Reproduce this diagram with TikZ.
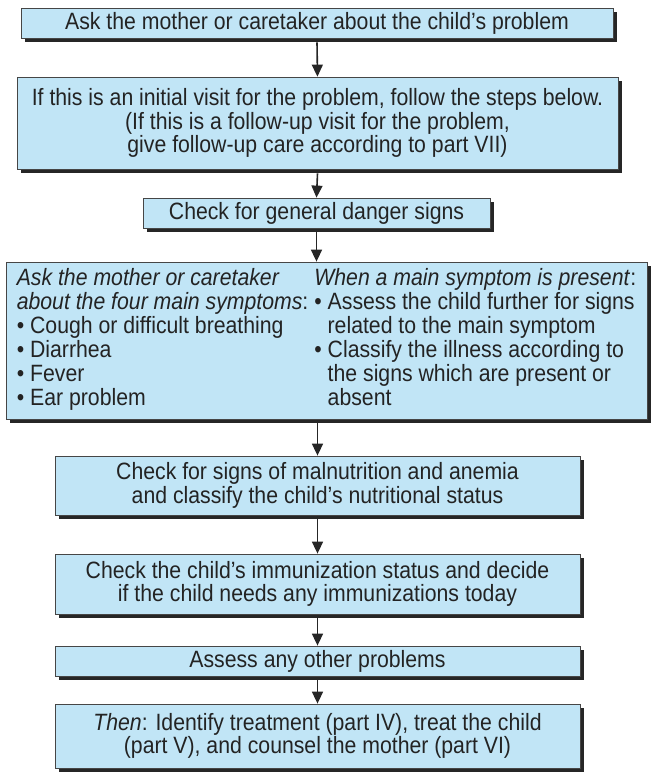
\documentclass[tikz,border=0pt]{standalone}
\usepackage{fontspec}
\setmainfont[FakeStretch=0.9]{Liberation Sans}
\usetikzlibrary{arrows.meta,shadows}
\definecolor{boxblue}{RGB}{193,229,246}
\definecolor{boxline}{RGB}{70,70,70}
\definecolor{ink}{RGB}{35,35,35}

\begin{document}
\begin{tikzpicture}[x=1pt,y=-1pt,
		stepbox/.style={draw=boxline,line width=0.8pt,fill=boxblue,inner sep=0pt,align=center,
			text=ink,font=\fontsize{23.6}{23.5}\selectfont,
			drop shadow={shadow xshift=4pt,shadow yshift=-4pt,opacity=1,fill=black!85}},
		flow/.style={-{Triangle[width=11pt,length=12pt]},line width=1.6pt,black!85}]
	\useasboundingbox[fill=white] (0,0) rectangle (651,772);
	% boxes, top to bottom
	\node[stepbox,minimum width=592pt,minimum height=30pt] (ask) at (317,23)
		{Ask the mother or caretaker about the child's problem};
	\node[stepbox,minimum width=601pt,minimum height=92pt] (visit) at (317.5,123)
		{If this is an initial visit for the problem, follow the steps below.\\
		(If this is a follow-up visit for the problem,\\
		give follow-up care according to part VII)};
	\node[stepbox,minimum width=347pt,minimum height=30pt] (danger) at (316.5,213)
		{Check for general danger signs};
	\node[stepbox,minimum width=641pt,minimum height=157pt] (symptoms) at (326.5,340.5)
		{\begin{tabular}{@{}l@{\hspace{6pt}}l@{}}
			\textit{Ask the mother or caretaker} & \textit{When a main symptom is present}:\\
			\textit{about the four main symptoms}: & \textbullet\ Assess the child further for signs\\
			\textbullet\ Cough or difficult breathing & \hphantom{\textbullet\ }related to the main symptom\\
			\textbullet\ Diarrhea & \textbullet\ Classify the illness according to\\
			\textbullet\ Fever & \hphantom{\textbullet\ }the signs which are present or\\
			\textbullet\ Ear problem & \hphantom{\textbullet\ }absent
		\end{tabular}};
	\node[stepbox,minimum width=525pt,minimum height=59pt] (nutrition) at (317.5,485.5)
		{Check for signs of malnutrition and anemia\\
		and classify the child's nutritional status};
	\node[stepbox,minimum width=525pt,minimum height=60pt] (immunize) at (317.5,584)
		{Check the child's immunization status and decide\\
		if the child needs any immunizations today};
	\node[stepbox,minimum width=525pt,minimum height=30pt] (other) at (317.5,661)
		{Assess any other problems};
	\node[stepbox,minimum width=525pt,minimum height=64pt] (then) at (317.5,736)
		{\textit{Then}: Identify treatment (part IV), treat the child\\
		(part V), and counsel the mother (part VI)};
	% arrows
	\draw[flow] ([yshift=-4pt]ask.south) -- (visit.north);
	\draw[flow] ([yshift=-4pt]visit.south) -- (danger.north);
	\draw[flow] ([yshift=-4pt]danger.south) -- (danger.south |- symptoms.north);
	\draw[flow] ([yshift=-4pt]symptoms.south -| nutrition.north) -- (nutrition.north);
	\draw[flow] ([yshift=-4pt]nutrition.south) -- (immunize.north);
	\draw[flow] ([yshift=-4pt]immunize.south) -- (other.north);
	\draw[flow] ([yshift=-4pt]other.south) -- (then.north);
\end{tikzpicture}
\end{document}
